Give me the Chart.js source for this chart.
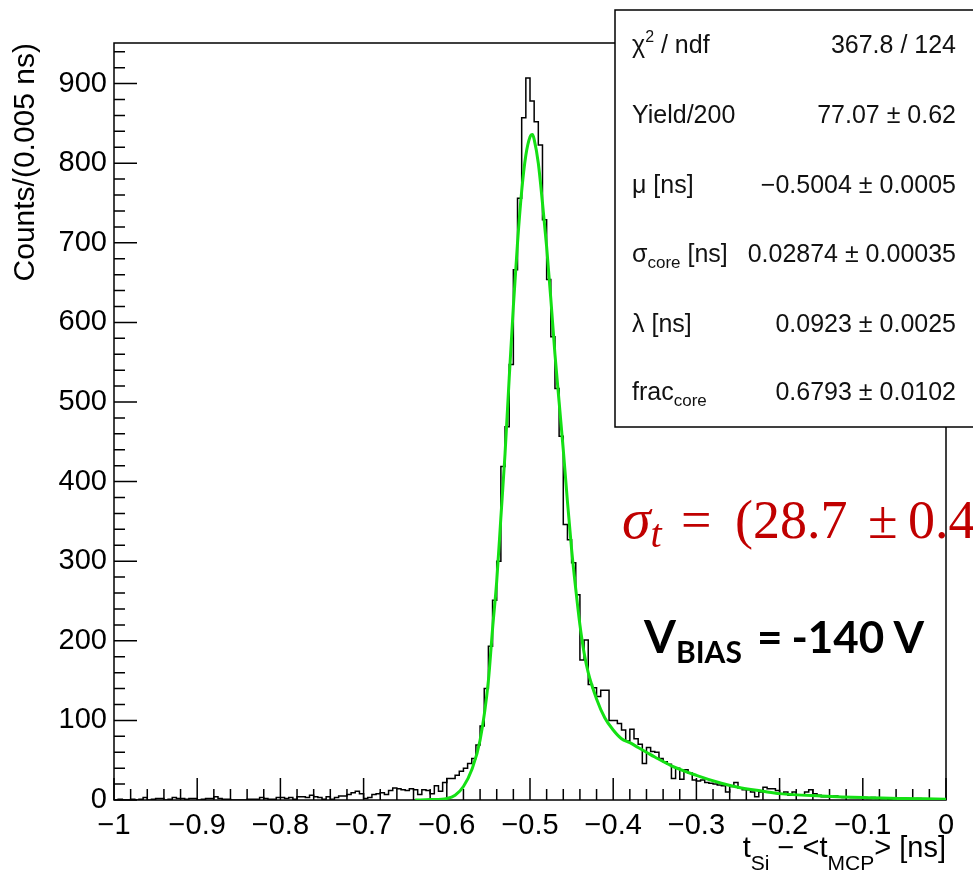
<!DOCTYPE html>
<html>
<head>
<meta charset="utf-8">
<title>t_Si - t_MCP fit</title>
<script src="https://cdn.jsdelivr.net/npm/chart.js@4.4.1/dist/chart.umd.min.js"></script>
<style>
  body { margin: 0; background: #fff; }
  #wrap { position: relative; width: 973px; height: 872px; overflow: hidden; background: #fff; }
  #c { position: absolute; left: 0; top: 0; }
  #overlay { position: absolute; left: 0; top: 0; pointer-events: none; }
  .stat { font-family: 'Liberation Sans', Arial, sans-serif; font-size: 25px; fill: #111; }
</style>
</head>
<body>
<div id="wrap">
  <canvas id="c" width="973" height="872"></canvas>
  <svg id="overlay" width="973" height="872" xmlns="http://www.w3.org/2000/svg">
    <!-- fit statistics box -->
    <rect x="615" y="10" width="380" height="417" fill="#fff" stroke="#000" stroke-width="1.5"/>
    <text class="stat" x="632" y="53">χ<tspan font-size="16" dy="-11">2</tspan><tspan dy="11"> / ndf</tspan></text>
    <text class="stat" x="956" y="53" text-anchor="end">367.8 / 124</text>
    <text class="stat" x="632" y="123">Yield/200</text>
    <text class="stat" x="956" y="123" text-anchor="end">77.07 ± 0.62</text>
    <text class="stat" x="632" y="193">μ [ns]</text>
    <text class="stat" x="956" y="193" text-anchor="end">−0.5004 ± 0.0005</text>
    <text class="stat" x="632" y="262">σ<tspan font-size="17" dy="6">core</tspan><tspan dy="-6"> [ns]</tspan></text>
    <text class="stat" x="956" y="262" text-anchor="end">0.02874 ± 0.00035</text>
    <text class="stat" x="632" y="332">λ [ns]</text>
    <text class="stat" x="956" y="332" text-anchor="end">0.0923 ± 0.0025</text>
    <text class="stat" x="632" y="400">frac<tspan font-size="17" dy="6">core</tspan></text>
    <text class="stat" x="956" y="400" text-anchor="end">0.6793 ± 0.0102</text>

    <!-- timing resolution, cut by the right edge as in the slide -->
    <g font-family="'Liberation Serif', 'DejaVu Serif', serif" font-size="54" fill="#c00000">
      <text x="622" y="538" font-size="58"><tspan font-style="italic">σ</tspan><tspan font-style="italic" font-size="40" dy="9">t</tspan></text>
      <text x="681" y="538">=</text>
      <text x="735" y="538">(28.7</text>
      <text x="868" y="538">±</text>
      <text x="908" y="538">0.4</text>
    </g>

    <!-- bias voltage -->
    <g font-family="Lato, 'Liberation Sans', sans-serif" font-weight="700" fill="#000">
      <text x="644" y="653" font-size="46">V<tspan font-size="30" dy="10">BIAS</tspan></text>
      <text x="757" y="653" font-size="44">=</text>
      <text x="924" y="653" font-size="44" text-anchor="end">-140 V</text>
    </g>

    <!-- x axis title -->
    <text x="946" y="857" text-anchor="end" font-family="'Liberation Sans', Arial, sans-serif" font-size="29" fill="#000">t<tspan font-size="21" dy="13">Si</tspan><tspan dy="-13"> − &lt;t</tspan><tspan font-size="21" dy="13">MCP</tspan><tspan dy="-13">&gt; [ns]</tspan></text>
  </svg>
</div>

<script>
// Histogram: 200 bins of 0.005 ns from -1 to 0
const xLow = -1;
const binWidth = 0.005;
const counts = [
  0, 1, 0, 0, 1, 0, 1, 3, 0, 1,
  2, 2, 0, 1, 3, 2, 2, 1, 2, 2,
  0, 1, 2, 2, 4, 2, 1, 1, 0, 0,
  0, 0, 1, 1, 1, 3, 2, 1, 1, 3,
  3, 2, 3, 1, 4, 4, 3, 6, 4, 3,
  1, 4, 1, 3, 5, 5, 7, 9, 11, 8,
  2, 3, 7, 8, 9, 7, 12, 15, 14, 13,
  12, 14, 13, 7, 13, 12, 8, 18, 11, 22,
  27, 27, 31, 36, 40, 46, 52, 69, 93, 140,
  193, 251, 300, 419, 469, 547, 666, 756, 857, 907,
  878, 852, 823, 729, 654, 582, 517, 457, 346, 327,
  298, 258, 176, 201, 145, 141, 130, 138, 138, 100,
  100, 96, 88, 74, 89, 77, 70, 46, 66, 61,
  60, 52, 48, 45, 27, 40, 26, 38, 34, 25,
  24, 25, 22, 21, 20, 19, 18, 10, 17, 22,
  15, 13, 13, 10, 4, 10, 16, 14, 14, 12,
  8, 10, 6, 10, 6, 6, 10, 13, 8, 6,
  4, 4, 4, 5, 4, 3, 4, 3, 3, 4,
  3, 2, 3, 2, 2, 2, 1, 2, 2, 1,
  2, 1, 1, 2, 1, 1, 1, 0, 1, 1
];

// Fit curve
const fitX = [-0.638, -0.62, -0.60, -0.59, -0.58, -0.57, -0.56, -0.55, -0.545, -0.54,
  -0.535, -0.53, -0.525, -0.52, -0.515, -0.51, -0.505, -0.50, -0.497, -0.495,
  -0.49, -0.485, -0.48, -0.475, -0.47, -0.465, -0.46, -0.455, -0.45, -0.445,
  -0.44, -0.435, -0.43, -0.42, -0.41, -0.40, -0.39, -0.38, -0.37, -0.36,
  -0.35, -0.33, -0.30, -0.27, -0.25, -0.22, -0.20, -0.15, -0.10, -0.05, 0];
const fitY = [0, 0.5, 2, 6, 17, 38, 75, 150, 215, 275,
  355, 435, 530, 620, 700, 765, 810, 833, 836, 830,
  800, 750, 695, 630, 560, 500, 440, 375, 315, 265,
  220, 185, 160, 127, 103, 88, 77, 72, 66, 60,
  54, 43, 31, 21, 16, 11, 8, 5, 3, 2, 1];

// Axes
const xTicks = [-1, -0.9, -0.8, -0.7, -0.6, -0.5, -0.4, -0.3, -0.2, -0.1, 0];
const xTickLabels = ['−1', '−0.9', '−0.8', '−0.7', '−0.6', '−0.5', '−0.4', '−0.3', '−0.2', '−0.1', '0'];
const yTicks = [0, 100, 200, 300, 400, 500, 600, 700, 800, 900];
const yMax = 951;

Chart.defaults.font.family = "'Liberation Sans', Arial, sans-serif";
Chart.defaults.color = '#000';

const histPoints = counts.map((c, i) => ({ x: xLow + i * binWidth, y: c }));
histPoints.push({ x: xLow + counts.length * binWidth, y: counts[counts.length - 1] });
const fitPoints = fitX.map((x, i) => ({ x: x, y: fitY[i] }));

// ROOT style frame with ticks pointing inwards (drawn under the curves)
const rootFrame = {
  id: 'rootFrame',
  beforeDatasetsDraw(chart) {
    const { ctx, chartArea: a, scales: { x, y } } = chart;
    ctx.save();
    ctx.strokeStyle = '#000';
    ctx.lineWidth = 1.5;
    ctx.strokeRect(a.left, a.top, a.right - a.left, a.bottom - a.top);
    ctx.beginPath();
    xTicks.forEach((v, i) => {
      const px = x.getPixelForValue(v);
      ctx.moveTo(px, a.bottom);
      ctx.lineTo(px, a.bottom - 22);
      if (i < xTicks.length - 1) {
        for (let k = 1; k < 5; k++) {
          const m = x.getPixelForValue(v + (xTicks[i + 1] - v) * k / 5);
          ctx.moveTo(m, a.bottom);
          ctx.lineTo(m, a.bottom - 11);
        }
      }
    });
    const yStep = yTicks[1] - yTicks[0];
    yTicks.forEach(v => {
      const py = y.getPixelForValue(v);
      ctx.moveTo(a.left, py);
      ctx.lineTo(a.left + 23, py);
      for (let k = 1; k < 5; k++) {
        const mv = v + yStep * k / 5;
        if (mv > yMax) break;
        const m = y.getPixelForValue(mv);
        ctx.moveTo(a.left, m);
        ctx.lineTo(a.left + 11, m);
      }
    });
    ctx.stroke();
    ctx.restore();
  }
};

new Chart(document.getElementById('c').getContext('2d'), {
  type: 'line',
  data: {
    datasets: [
      {
        label: 'fit',
        data: fitPoints,
        borderColor: '#14e014',
        borderWidth: 3,
        pointRadius: 0,
        cubicInterpolationMode: 'monotone',
        order: 0
      },
      {
        label: 'data',
        data: histPoints,
        stepped: 'before',
        borderColor: '#000',
        borderWidth: 1.5,
        pointRadius: 0,
        order: 1
      }
    ]
  },
  options: {
    responsive: false,
    animation: false,
    layout: { padding: { top: 43, right: 27, left: 0, bottom: 0 } },
    plugins: { legend: { display: false }, tooltip: { enabled: false } },
    scales: {
      x: {
        type: 'linear',
        min: -1,
        max: 0,
        grid: { display: false, drawTicks: false },
        border: { display: false },
        afterBuildTicks: s => { s.ticks = xTicks.map(v => ({ value: v })); },
        afterFit: s => { s.height = 72; },
        ticks: {
          padding: 9,
          autoSkip: false,
          maxRotation: 0,
          font: { size: 29 },
          callback: (v, i) => xTickLabels[i]
        }
      },
      y: {
        type: 'linear',
        min: 0,
        max: yMax,
        grid: { display: false, drawTicks: false },
        border: { display: false },
        afterBuildTicks: s => { s.ticks = yTicks.map(v => ({ value: v })); },
        afterFit: s => { s.width = 114; },
        ticks: {
          padding: 7,
          font: { size: 29 },
          callback: v => String(v)
        },
        title: {
          display: true,
          text: 'Counts/(0.005 ns)',
          align: 'end',
          font: { size: 30 },
          padding: { top: 8, bottom: 0 }
        }
      }
    }
  },
  plugins: [rootFrame]
});
</script>
</body>
</html>
